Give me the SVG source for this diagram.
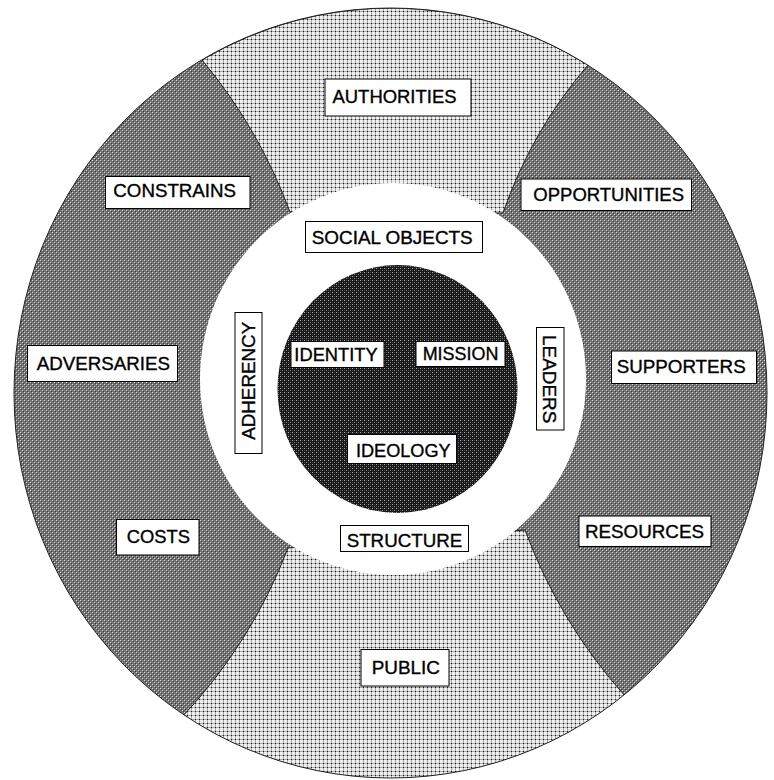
<svg xmlns="http://www.w3.org/2000/svg" width="774" height="780" viewBox="0 0 774 780">
<defs>
<style>
.box{fill:#fff;stroke:#000;stroke-width:1}
.lbl{font-family:"Liberation Sans",Arial,sans-serif;font-size:18px;fill:#000;stroke:#000;stroke-width:0.35;text-anchor:middle}
.edge{fill:none;stroke:#222;stroke-width:1}
</style>
<pattern id="pDark" width="4" height="4" patternUnits="userSpaceOnUse" shape-rendering="crispEdges">
<rect width="4" height="4" fill="#747474"/>
<rect x="0" y="0" width="1" height="1" fill="#d8d8d8"/>
<rect x="2" y="2" width="1" height="1" fill="#d8d8d8"/>
<rect x="1" y="1" width="1" height="1" fill="#383838"/>
<rect x="3" y="3" width="1" height="1" fill="#383838"/>
</pattern>
<pattern id="pLight" width="4" height="4" patternUnits="userSpaceOnUse" shape-rendering="crispEdges">
<rect width="4" height="4" fill="#f0f0f0"/>
<rect x="0" y="3" width="4" height="1" fill="#a8a8a8"/>
<rect x="3" y="0" width="1" height="4" fill="#a8a8a8"/>
<rect x="3" y="3" width="1" height="1" fill="#202020"/>
</pattern>
<pattern id="pCore" width="4" height="4" patternUnits="userSpaceOnUse" shape-rendering="crispEdges">
<rect width="4" height="4" fill="#181818"/>
<rect x="0" y="0" width="1" height="1" fill="#b0b0b0"/>
<rect x="2" y="2" width="1" height="1" fill="#808080"/>
<rect x="2" y="0" width="1" height="1" fill="#484848"/>
<rect x="0" y="2" width="1" height="1" fill="#484848"/>
</pattern>
<clipPath id="outerClip"><ellipse cx="390.5" cy="393" rx="376.5" ry="385"/></clipPath>
</defs>

<g id="regions">
<ellipse id="outer-ring" cx="390.5" cy="393" rx="376.5" ry="385" fill="url(#pDark)"/>
<g clip-path="url(#outerClip)">
<path id="sector-authorities" d="M202,60 A376.5,385 0 0 1 588,65 A455,455 0 0 0 503,213 L290,212 A516,516 0 0 0 202,60 Z" fill="url(#pLight)" stroke="#222" stroke-width="1"/>
<path id="sector-public" d="M183,716 A376.5,385 0 0 0 625,696 A520,520 0 0 1 525,530 L288,548 A516,516 0 0 1 183,716 Z" fill="url(#pLight)" stroke="#222" stroke-width="1"/>
</g>
<ellipse class="edge" cx="390.5" cy="393" rx="376.5" ry="385"/>
<ellipse id="white-ring" cx="393" cy="379" rx="193" ry="196" fill="#fff"/>
<ellipse id="core" cx="397.5" cy="389" rx="120" ry="124" fill="url(#pCore)"/>
</g>

<g id="node-authorities"><rect class="box" x="325" y="79" width="146" height="37"/><text class="lbl" x="394.5" y="102.5" textLength="124" lengthAdjust="spacingAndGlyphs">AUTHORITIES</text></g>
<g id="node-social-objects"><rect class="box" x="305.5" y="221.5" width="177" height="31"/><text class="lbl" x="392.2" y="243.5" textLength="161" lengthAdjust="spacingAndGlyphs">SOCIAL OBJECTS</text></g>
<g id="node-constrains"><rect class="box" x="105.5" y="176.5" width="144.5" height="32"/><text class="lbl" x="174.7" y="197" textLength="122.7" lengthAdjust="spacingAndGlyphs">CONSTRAINS</text></g>
<g id="node-opportunities"><rect class="box" x="521" y="179" width="170.5" height="31.5"/><text class="lbl" x="608.7" y="201" textLength="150.7" lengthAdjust="spacingAndGlyphs">OPPORTUNITIES</text></g>
<g id="node-adversaries"><rect class="box" x="27.5" y="345.5" width="150" height="36"/><text class="lbl" x="103.3" y="369.5" textLength="133.3" lengthAdjust="spacingAndGlyphs">ADVERSARIES</text></g>
<g id="node-supporters"><rect class="box" x="611.5" y="351" width="145" height="32.5"/><text class="lbl" x="681.2" y="373" textLength="129" lengthAdjust="spacingAndGlyphs">SUPPORTERS</text></g>
<g id="node-costs"><rect class="box" x="116.5" y="519.5" width="82.5" height="35.5"/><text class="lbl" x="158.3" y="542.5" textLength="63.3" lengthAdjust="spacingAndGlyphs">COSTS</text></g>
<g id="node-resources"><rect class="box" x="579" y="516" width="132" height="30.5"/><text class="lbl" x="644.5" y="537.5" textLength="119" lengthAdjust="spacingAndGlyphs">RESOURCES</text></g>
<g id="node-public"><rect class="box" x="361" y="649.5" width="88" height="36.5"/><text class="lbl" x="405.8" y="673.5" textLength="68.3" lengthAdjust="spacingAndGlyphs">PUBLIC</text></g>
<g id="node-identity"><rect class="box" x="291" y="341.5" width="93" height="26"/><text class="lbl" x="336" y="361" textLength="83.3" lengthAdjust="spacingAndGlyphs">IDENTITY</text></g>
<g id="node-mission"><rect class="box" x="416" y="341.5" width="89" height="25"/><text class="lbl" x="460.5" y="360" textLength="75.7" lengthAdjust="spacingAndGlyphs">MISSION</text></g>
<g id="node-ideology"><rect class="box" x="347.5" y="434.5" width="109" height="29"/><text class="lbl" x="403.3" y="456.7" textLength="94.7" lengthAdjust="spacingAndGlyphs">IDEOLOGY</text></g>
<g id="node-structure"><rect class="box" x="340.5" y="525.5" width="128" height="26"/><text class="lbl" x="404.5" y="546.7" textLength="115.7" lengthAdjust="spacingAndGlyphs">STRUCTURE</text></g>
<g id="node-adherency"><rect class="box" x="235" y="312.5" width="27" height="141"/><text class="lbl" transform="translate(255.3,380.8) rotate(-90)" x="0" y="0" textLength="118" lengthAdjust="spacingAndGlyphs">ADHERENCY</text></g>
<g id="node-leaders"><rect class="box" x="536.5" y="327.5" width="27.5" height="102.5"/><text class="lbl" transform="translate(543.3,379.2) rotate(90)" x="0" y="0" textLength="88.3" lengthAdjust="spacingAndGlyphs">LEADERS</text></g>

<g id="connectors"/>
</svg>
